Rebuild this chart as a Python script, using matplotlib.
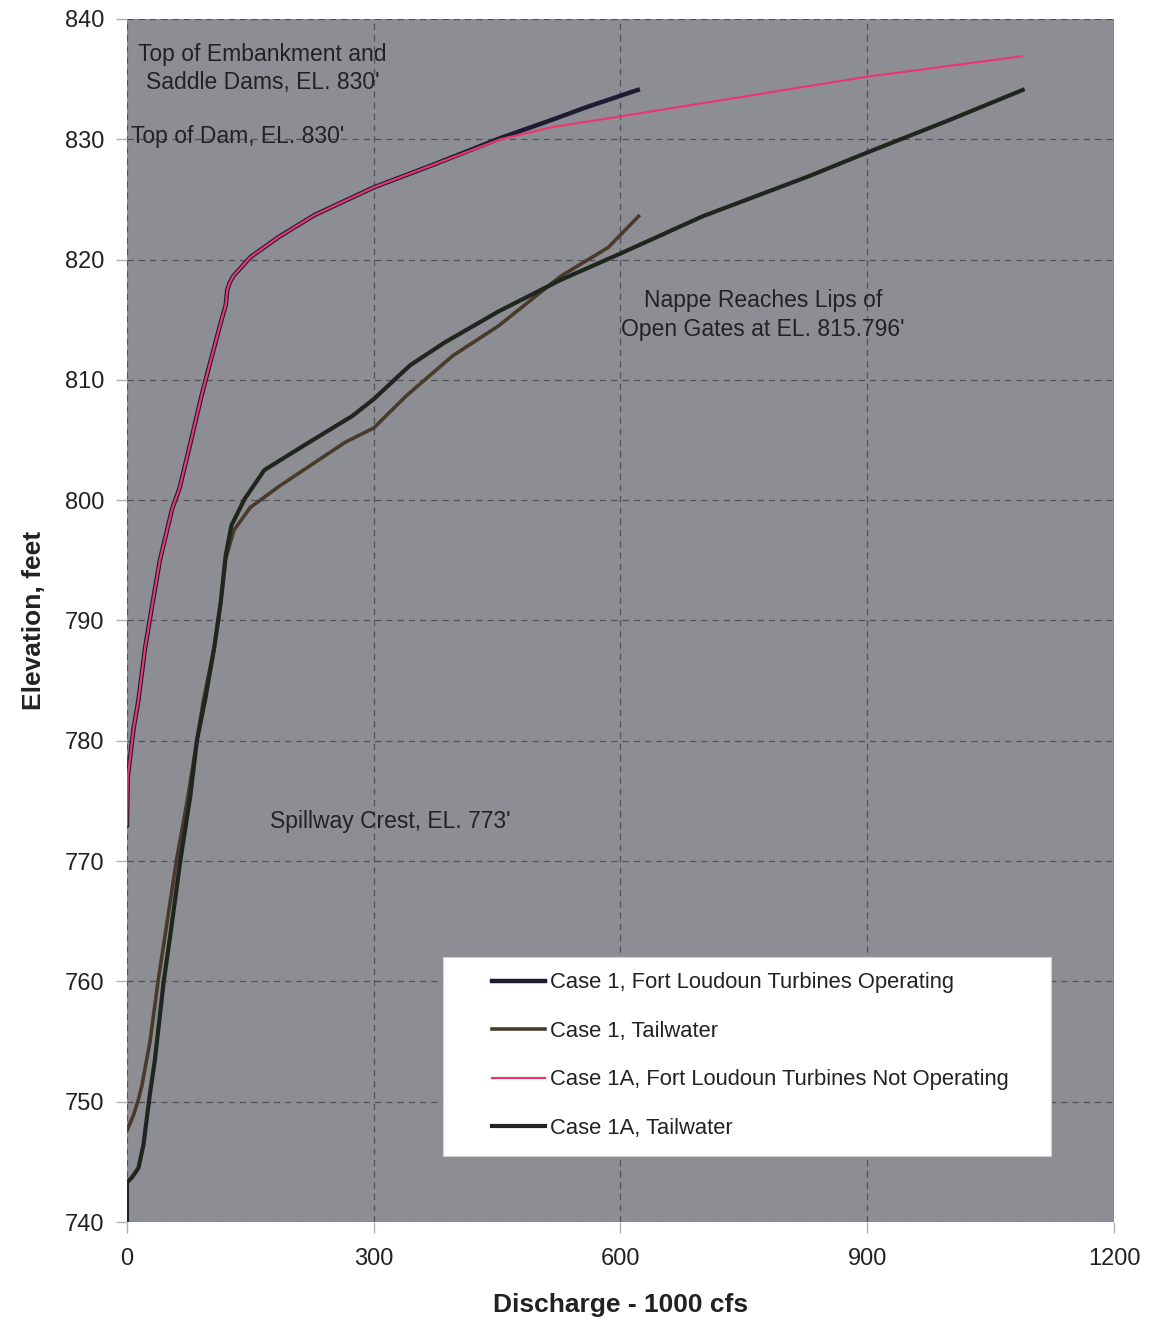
import matplotlib
matplotlib.use("Agg")
import matplotlib.pyplot as plt
from matplotlib.patches import Rectangle

plt.rcParams['font.family'] = ['Liberation Sans', 'DejaVu Sans']

# Case 1, Fort Loudoun Turbines Operating
case1_q = [0, 1, 8, 14, 22, 30, 40, 55, 64, 78, 90, 101, 115, 120, 122, 125, 129, 150, 185, 228,
           300, 373, 454, 516, 560, 621]
case1_el = [773, 777, 781, 783.4, 787.7, 791, 795, 799.3, 801, 805, 808.5, 811.4, 815, 816.2, 817.5,
            818.1, 818.6, 820.2, 821.9, 823.7, 826, 827.9, 830.1, 831.6, 832.7, 834.1]

# Case 1, Tailwater
case1_tw_q = [0, 8, 14, 18, 28, 38, 44.5, 60.7, 73, 85, 93, 106, 114, 120, 130, 150, 186, 265,
              300, 340, 396, 452, 527, 585, 622]
case1_tw_el = [747.6, 748.9, 750.2, 751.3, 755, 760.1, 763, 770.3, 774.9, 780, 783.4, 787.7, 791.5,
               795.1, 797.5, 799.4, 801.2, 804.8, 806, 808.7, 812, 814.5, 818.6, 821, 823.6]

# Case 1A, Fort Loudoun Turbines Not Operating
case1a_q = [0, 1, 8, 14, 22, 30, 40, 55, 64, 78, 90, 101, 115, 120, 122, 125, 129, 150, 185, 228,
            300, 373, 454, 516, 600, 700, 800, 900, 1000, 1088]
case1a_el = [773, 777, 781, 783.4, 787.7, 791, 795, 799.3, 801, 805, 808.5, 811.4, 815, 816.2, 817.5,
             818.1, 818.6, 820.2, 821.9, 823.7, 826, 827.9, 830, 831, 831.9, 833, 834.1, 835.2,
             836.1, 836.9]

# Case 1A, Tailwater
case1a_tw_q = [0, 0, 6, 14, 20, 28, 34, 44.5, 52.6, 65, 77, 85, 95, 106, 114, 120, 127, 143, 167,
               214, 274, 300, 344, 386, 452, 527, 600, 700, 828, 900, 1000, 1089]
case1a_tw_el = [740, 743.3, 743.7, 744.5, 746.4, 750.7, 753.5, 759.9, 763.8, 770.1, 775.4, 780,
                783.4, 787.7, 791.5, 795.4, 797.9, 800.1, 802.5, 804.5, 807, 808.4, 811.2, 813.1,
                815.7, 818.3, 820.5, 823.6, 826.9, 828.9, 831.6, 834.1]

x_ticks = [0, 300, 600, 900, 1200]
y_ticks = [740, 750, 760, 770, 780, 790, 800, 810, 820, 830, 840]

fig = plt.figure(figsize=(11.5, 13.25), dpi=100)
ax = fig.add_axes([0.1104, 0.0777, 0.8583, 0.908])
ax.set_facecolor('#8c8e93')

ax.plot(case1_q, case1_el, color='#1c1c34', lw=3.2, label='Case 1, Fort Loudoun Turbines Operating', zorder=3)
ax.plot(case1_tw_q, case1_tw_el, color='#4a3a2c', lw=2.6, label='Case 1, Tailwater', zorder=3)
ax.plot(case1a_q, case1a_el, color='#e8386e', lw=1.6, label='Case 1A, Fort Loudoun Turbines Not Operating', zorder=4)
ax.plot(case1a_tw_q, case1a_tw_el, color='#1e261e', lw=3.0, label='Case 1A, Tailwater', zorder=3)

ax.set_xlim(0, 1200)
ax.set_ylim(740, 840)
ax.set_xticks(x_ticks)
ax.set_yticks(y_ticks)
ax.grid(True, color='#505058', linestyle=(0, (5, 4)), linewidth=0.9)
ax.set_axisbelow(True)
for s in ax.spines.values():
    s.set_visible(False)
ax.tick_params(axis='both', labelsize=17, length=8, width=1, colors='#222222')
ax.tick_params(axis='both', color='#b0b0b0')
ax.tick_params(axis='x', pad=11)
ax.tick_params(axis='y', pad=8)

ax.set_xlabel('Discharge - 1000 cfs', fontsize=19, fontweight='bold', color='#222222', labelpad=16)
ax.set_ylabel('Elevation, feet', fontsize=19, fontweight='bold', color='#222222', labelpad=14)

txt = dict(fontsize=16.5, color='#222222', ha='center', va='center', linespacing=1.3, zorder=5)
ax.text(165, 835.9, "Top of Embankment and\nSaddle Dams, EL. 830'", **txt)
ax.text(134, 830.2, "Top of Dam, EL. 830'", **txt)
ax.text(773, 815.4, "Nappe Reaches Lips of\nOpen Gates at EL. 815.796'", **txt)
ax.text(320, 773.3, "Spillway Crest, EL. 773'", **txt)

# legend box
ax.add_patch(Rectangle((0.3197, 0.0551), 0.616, 0.1655, transform=ax.transAxes,
                       facecolor='white', edgecolor='#d0d0d0', lw=0.8, zorder=6))
leg = ax.legend(loc='upper left', bbox_to_anchor=(0.370, 0.2075), frameon=False, fontsize=15.8,
                labelspacing=1.25, handlelength=2.4, handletextpad=0.25, borderpad=0, borderaxespad=0)
leg.set_zorder(7)
for t in leg.get_texts():
    t.set_color('#222222')

fig.savefig('out.png', dpi=100, facecolor='white')
